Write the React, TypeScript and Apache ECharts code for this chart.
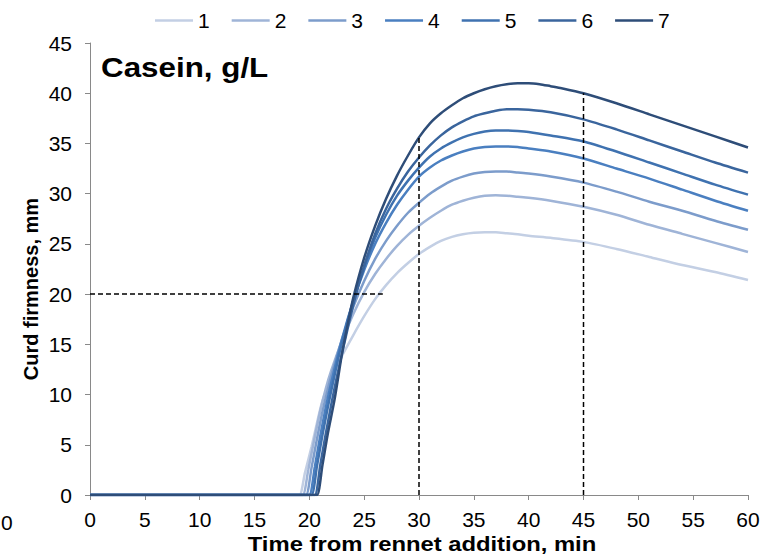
import React, { useEffect, useRef } from "react";
import * as echarts from "echarts";

const SERIES_NAMES = ["1", "2", "3", "4", "5", "6", "7"];
const COLORS = ["#c3cfe4", "#9fb4d7", "#7c9ccb", "#4a7fc0", "#3f72b0", "#3a659d", "#2e4d78"];

const X_TICKS = [0, 60, 5];
const Y_TICKS = [0, 45, 5];

const S1 = [[0, 0], [18.6, 0], [19.1, 0], [19.6, 2.2], [20.2, 4.8], [20.7, 7.2], [21.2, 9.4], [22, 11.6], [23, 13.9], [24, 15.9], [25, 17.8], [26, 19.5], [27, 20.9], [28, 22.1], [29, 23.1], [30, 24.0], [31, 24.7], [32, 25.3], [33, 25.7], [34, 25.95], [35, 26.1], [36, 26.15], [37, 26.15], [38, 26.05], [39, 25.95], [40, 25.8], [42, 25.6], [45, 25.2], [48, 24.5], [51, 23.7], [54, 22.9], [57, 22.2], [60, 21.4]];
const S2 = [[0, 0], [18.9, 0], [19.4, 0], [19.9, 2.5], [20.5, 5.8], [21, 8.4], [21.5, 10.6], [22, 12.4], [23, 15.4], [24, 18.0], [25, 20.2], [26, 22.0], [27, 23.5], [28, 24.8], [29, 25.9], [30, 26.8], [31, 27.6], [32, 28.3], [33, 28.9], [34, 29.3], [35, 29.6], [36, 29.8], [37, 29.85], [38, 29.8], [39, 29.7], [40, 29.6], [42, 29.3], [45, 28.7], [48, 27.9], [51, 26.9], [54, 26.0], [57, 25.1], [60, 24.2]];
const S3 = [[0, 0], [19.2, 0], [19.7, 0], [20.2, 2.7], [20.7, 5.6], [21.2, 8.3], [21.7, 10.6], [22, 11.9], [23, 15.6], [24, 18.7], [25, 21.3], [26, 23.5], [27, 25.3], [28, 26.8], [29, 28.1], [30, 29.1], [31, 30.0], [32, 30.7], [33, 31.3], [34, 31.7], [35, 32.0], [36, 32.15], [37, 32.2], [38, 32.2], [39, 32.1], [40, 32.0], [42, 31.7], [45, 31.1], [48, 30.2], [51, 29.2], [54, 28.3], [57, 27.3], [60, 26.4]];
const S4 = [[0, 0], [19.5, 0], [20, 0], [20.5, 2.8], [21, 5.9], [21.5, 8.7], [22, 11.2], [23, 15.6], [24, 19.3], [25, 22.4], [26, 25.0], [27, 27.1], [28, 28.9], [29, 30.4], [30, 31.7], [31, 32.6], [32, 33.3], [33, 33.8], [34, 34.2], [35, 34.5], [36, 34.65], [37, 34.7], [38, 34.7], [39, 34.65], [40, 34.5], [42, 34.2], [45, 33.5], [48, 32.5], [51, 31.5], [54, 30.4], [57, 29.3], [60, 28.3]];
const S5 = [[0, 0], [19.7, 0], [20.2, 0], [20.7, 2.9], [21.2, 6.0], [21.7, 8.8], [22.2, 11.4], [23, 15.3], [24, 19.3], [25, 22.7], [26, 25.6], [27, 27.9], [28, 29.8], [29, 31.3], [30, 32.6], [31, 33.7], [32, 34.5], [33, 35.1], [34, 35.6], [35, 35.95], [36, 36.2], [37, 36.3], [38, 36.3], [39, 36.25], [40, 36.15], [42, 35.8], [45, 35.2], [48, 34.2], [51, 33.1], [54, 32.0], [57, 30.9], [60, 29.9]];
const S6 = [[0, 0], [20.0, 0], [20.5, 0], [21, 3.0], [21.5, 6.1], [22, 9.0], [22.5, 11.7], [23, 14.2], [24, 18.9], [25, 22.8], [26, 26.0], [27, 28.5], [28, 30.5], [29, 32.2], [30, 33.6], [31, 34.8], [32, 35.8], [33, 36.6], [34, 37.2], [35, 37.7], [36, 38.0], [37, 38.25], [38, 38.4], [39, 38.4], [40, 38.35], [42, 38.1], [45, 37.4], [48, 36.4], [51, 35.3], [54, 34.2], [57, 33.1], [60, 32.1]];
const S7 = [[0, 0], [20.2, 0], [20.7, 0], [21.2, 3.0], [21.7, 6.2], [22.3, 9.5], [23, 14.2], [23.5, 17.0], [24, 19.6], [25, 23.6], [26, 26.8], [27, 29.5], [28, 31.8], [29, 33.8], [30, 35.6], [31, 37.0], [32, 38.0], [33, 38.8], [34, 39.5], [35, 40.0], [36, 40.4], [37, 40.7], [38, 40.9], [39, 41.0], [40, 41.0], [41, 40.9], [42, 40.7], [43, 40.5], [45, 40.0], [48, 39.0], [51, 37.9], [54, 36.8], [57, 35.7], [60, 34.6]];
const SERIES_DATA = [S1, S2, S3, S4, S5, S6, S7];

const GUIDE_H = [[0, 20], [26.7, 20]];
const GUIDE_V30 = [[30, 0], [30, 35.6]];
const GUIDE_V45 = [[45, 0], [45, 40.0]];

const TITLE = "Casein, g/L";
const X_NAME = "Time from rennet addition, min";
const Y_NAME = "Curd firmness, mm";
const STRAY_LABEL = "0";

const FONT = "'Liberation Sans', Arial, sans-serif";

export default function App() {
  const ref = useRef<HTMLDivElement>(null);
  useEffect(() => {
    if (!ref.current) return;
    const chart = echarts.init(ref.current, null, { renderer: "svg" });
    const guide = (name: string, data: number[][]) => ({
      name,
      type: "line",
      data,
      symbol: "none",
      silent: true,
      z: 5,
      lineStyle: { color: "#000", width: 1.5, type: [5, 3] },
    });
    chart.setOption({
      animation: false,
      textStyle: { fontFamily: FONT },
      grid: { left: 90, right: 23, top: 43, bottom: 64, containLabel: false },
      legend: {
        data: SERIES_NAMES,
        left: 150,
        top: 5,
        icon: "rect",
        itemWidth: 38,
        itemHeight: 2.5,
        itemGap: 22,
        textStyle: { fontSize: 21, color: "#000", fontFamily: FONT },
      },
      xAxis: {
        type: "value",
        min: X_TICKS[0],
        max: X_TICKS[1],
        interval: X_TICKS[2],
        axisLine: { lineStyle: { color: "#898989", width: 1 } },
        axisTick: { show: true, length: 5, lineStyle: { color: "#898989" } },
        splitLine: { show: false },
        axisLabel: { fontSize: 21, color: "#000", margin: 14, fontFamily: FONT },
      },
      yAxis: {
        type: "value",
        min: Y_TICKS[0],
        max: Y_TICKS[1],
        interval: Y_TICKS[2],
        axisLine: { show: true, lineStyle: { color: "#898989", width: 1 } },
        axisTick: { show: true, length: 5, lineStyle: { color: "#898989" } },
        splitLine: { show: false },
        axisLabel: { fontSize: 21, color: "#000", margin: 18, fontFamily: FONT },
      },
      graphic: [
        {
          type: "text",
          x: 101,
          y: 53,
          scaleX: 1.12,
          style: { text: TITLE, fontSize: 28, fontWeight: "bold", fontFamily: FONT, fill: "#000", align: "left", verticalAlign: "top" },
        },
        {
          type: "text",
          x: 422,
          y: 544,
          scaleX: 1.19,
          style: { text: X_NAME, fontSize: 20, fontWeight: "bold", fontFamily: FONT, fill: "#000", align: "center", verticalAlign: "middle" },
        },
        {
          type: "text",
          x: 31,
          y: 289,
          rotation: Math.PI / 2,
          style: { text: Y_NAME, fontSize: 20, fontWeight: "bold", fontFamily: FONT, fill: "#000", align: "center", verticalAlign: "middle" },
        },
        {
          type: "text",
          x: 1,
          y: 522,
          style: { text: STRAY_LABEL, fontSize: 21, fontFamily: FONT, fill: "#000", align: "left", verticalAlign: "middle" },
        },
      ],
      series: [
        ...SERIES_DATA.map((d, i) => ({
          name: SERIES_NAMES[i],
          type: "line",
          data: d,
          symbol: "none",
          smooth: 0.25,
          z: 3,
          color: COLORS[i],
          lineStyle: { color: COLORS[i], width: 2.5 },
        })),
        guide("guideH", GUIDE_H),
        guide("guideV30", GUIDE_V30),
        guide("guideV45", GUIDE_V45),
      ],
    });
    return () => chart.dispose();
  }, []);
  return (
    <div
      ref={ref}
      style={{ position: "fixed", left: 0, top: 0, width: 771, height: 559, background: "#fff" }}
    />
  );
}
